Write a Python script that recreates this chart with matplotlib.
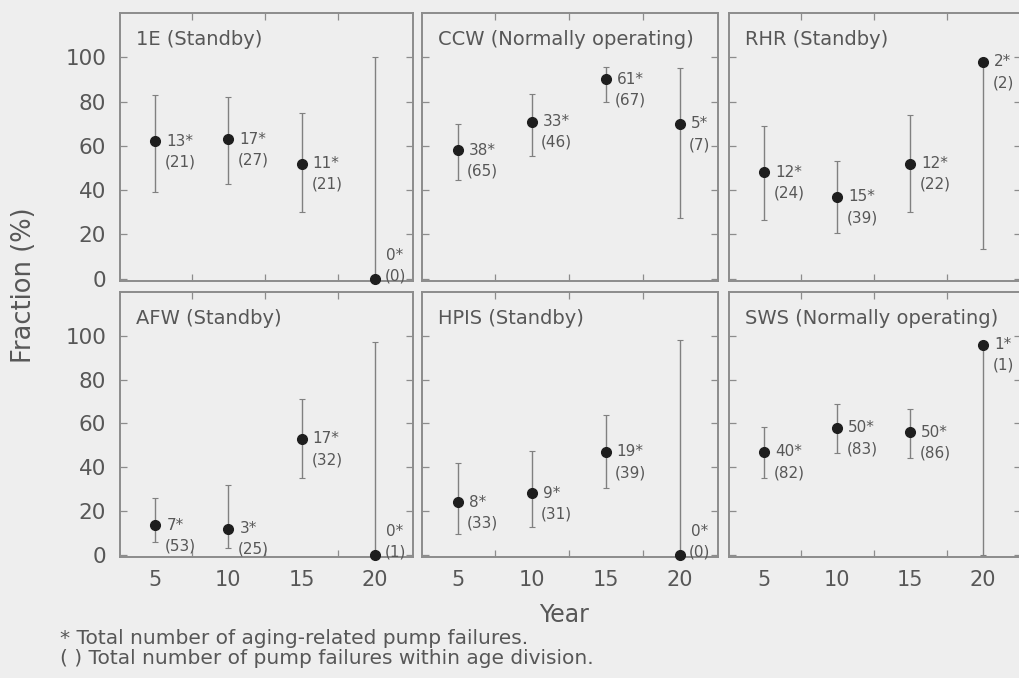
import numpy as np
import matplotlib.pyplot as plt

# age divisions (years)
years = [5, 10, 15, 20]

titles = ["1E (Standby)", "CCW (Normally operating)", "RHR (Standby)",
          "AFW (Standby)", "HPIS (Standby)", "SWS (Normally operating)"]

# aging-related failures (*) and total failures ( ) per age division
aging = [[13, 17, 11, 0], [38, 33, 61, 5], [12, 15, 12, 2],
         [7, 3, 17, 0], [8, 9, 19, 0], [40, 50, 50, 1]]
total = [[21, 27, 21, 0], [65, 46, 67, 7], [24, 39, 22, 2],
         [53, 25, 32, 1], [33, 31, 39, 0], [82, 83, 86, 1]]

# fraction (%), with the bar ends
fraction = [[62, 63, 52, 0], [58, 71, 90, 70], [48, 37, 52, 98],
            [13.5, 12, 53, 0], [24, 28, 47, 0], [47, 58, 56, 96]]
lower = [[39, 43, 30, 0], [44.5, 55.5, 80, 27.5], [26.5, 20.5, 30, 13.5],
         [6, 3, 35, 0], [9.5, 12.5, 30.5, 0], [35, 46.5, 44, 0]]
upper = [[83, 82, 75, 100], [70, 83.5, 95.5, 95], [69, 53, 74, 98],
         [26, 32, 71, 97], [42, 47.5, 64, 98], [58.5, 69, 66.5, 96]]

bg = '#eeeeee'
txt = '#575757'
edge = '#8c8c8c'

W, H = 1020, 678
fig = plt.figure(figsize=(W / 100, H / 100), dpi=100)
fig.patch.set_facecolor(bg)

lefts = [120, 422, 729]
widths = [293, 296, 292]
rows = [(13, 281), (292, 557)]

for i in range(6):
    r, c = divmod(i, 3)
    t, b = rows[r]
    ax = fig.add_axes([lefts[c] / W, 1 - b / H, widths[c] / W, (b - t) / H])
    ax.set_facecolor(bg)
    ax.set_xlim(2.6, 22.6)
    ax.set_ylim(-1, 120)

    v = np.array(fraction[i], dtype=float)
    lo = np.array(lower[i], dtype=float)
    hi = np.array(upper[i], dtype=float)
    ax.errorbar(years, v, yerr=[v - lo, hi - v], fmt='o', color='#1e1e1e',
                ms=7, ecolor='#808080', elinewidth=1.0, capsize=2.2,
                capthick=0.8, clip_on=False, zorder=3)

    for x, yv, a, n in zip(years, v, aging[i], total[i]):
        dy = 17 if yv == 0 else 0
        ax.annotate(f"{a}*", (x, yv), xytext=(8, dy), textcoords='offset points',
                    ha='left', va='center', fontsize=11, color=txt,
                    annotation_clip=False)
        ax.annotate(f"({n})", (x, yv), xytext=(7, dy - 15),
                    textcoords='offset points', ha='left', va='center',
                    fontsize=11, color=txt, annotation_clip=False)

    ax.text(0.055, 0.9, titles[i], transform=ax.transAxes, fontsize=14,
            color=txt, va='center', ha='left')

    for s in ax.spines.values():
        s.set_color(edge)
        s.set_linewidth(1.4)

    ax.set_xticks(years)
    ax.set_xticks([7.5, 12.5, 17.5], minor=True)
    ax.set_yticks([0, 20, 40, 60, 80, 100])
    ax.tick_params(axis='x', which='major', length=0, labelsize=15,
                   labelcolor=txt, pad=9, labelbottom=(r == 1))
    ax.tick_params(axis='x', which='minor', direction='in', top=True,
                   bottom=True, length=5, width=0.9, color=edge)
    ax.tick_params(axis='y', direction='in', left=True, right=True, length=5,
                   width=0.9, color=edge, labelsize=15.5, labelcolor=txt,
                   pad=10, labelleft=(c == 0))

fig.text(0.553, 0.093, "Year", fontsize=17, color=txt, ha='center', va='center')
fig.text(0.024, 0.58, "Fraction (%)", fontsize=18.5, color=txt, rotation=90,
         ha='center', va='center')
fig.text(60 / W, 1 - 639 / H, "* Total number of aging-related pump failures.",
         fontsize=14.5, color=txt, ha='left', va='center')
fig.text(60 / W, 1 - 659 / H,
         "( ) Total number of pump failures within age division.",
         fontsize=14.5, color=txt, ha='left', va='center')

fig.savefig("out.png", dpi=100, facecolor=bg)
